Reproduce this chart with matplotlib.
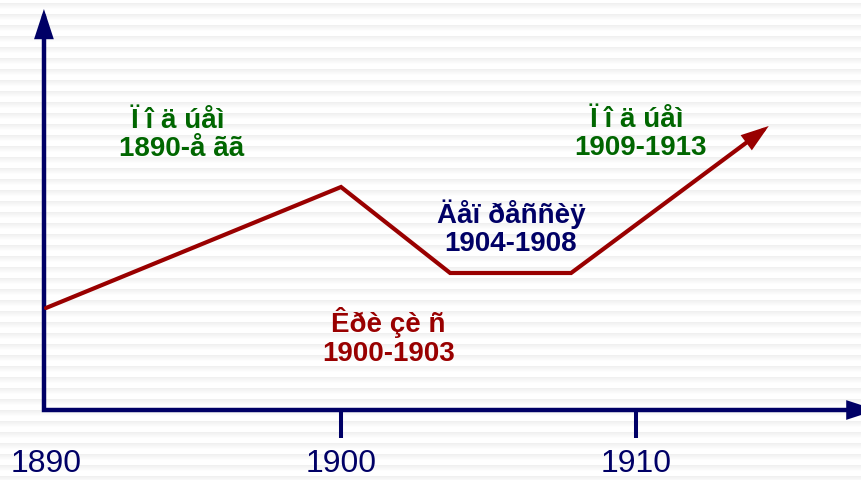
import numpy as np
import matplotlib
matplotlib.use("Agg")
import matplotlib.pyplot as plt
from matplotlib.patches import FancyArrowPatch
from matplotlib.path import Path

# ---- data ----
years = [1890, 1900, 1903.7, 1907.8, 1914.5]
level = [102, 223, 137, 137, 284]

tick_years = [1890, 1900, 1910]
tick_labels = ["1890", "1900", "1910"]

label_texts = ["Ï î ä úåì \n1890-å ãã",
               "Êðè çè ñ\n1900-1903",
               "Äåï ðåññèÿ\n1904-1908",
               "Ï î ä úåì \n1909-1913"]
label_x = [1894.6, 1901.6, 1905.76, 1910.14]
label_y = [275, 73, 182, 276]
label_colors = ["#006600", "#990000", "#000066", "#006600"]

# ---- styling ----
NAVY = "#000066"
RED = "#990000"
W, H, DPI = 862, 480, 100

plt.rcParams['font.family'] = ['Liberation Sans', 'DejaVu Sans']

fig = plt.figure(figsize=(W / DPI, H / DPI), dpi=DPI)

# striped slide background
rows = np.arange(H)
k = (rows - 3) % 11
col = np.where(k < 6, 0.94 + 0.06 * k / 6.0, 1.0)
bg = np.tile(col[:, None], (1, W))
fig.figimage(bg, xo=0, yo=0, origin='upper', cmap='gray', vmin=0, vmax=1, zorder=-10)

ax = fig.add_axes([0, 0, 1, 1])
ax.set_zorder(1)
ax.patch.set_alpha(0)
ax.set_xlim(1888.441, 1917.661)
ax.set_ylim(-70, 410)
ax.spines['bottom'].set_position(('data', 0))
for s in ax.spines.values():
    s.set_visible(False)

x0 = 1889.93
# axes arrows (one path with heads at both ends)
axis_path = Path([(x0, 401), (x0, 0), (1918.15, 0)])
ax.add_patch(FancyArrowPatch(path=axis_path,
                             arrowstyle='<|-|>,head_length=15,head_width=4.9',
                             mutation_scale=1, lw=3.2, color=NAVY,
                             joinstyle='miter', clip_on=False, zorder=3))

# ticks
ax.set_yticks([])
ax.xaxis.set_ticks_position('bottom')
ax.set_xticks(tick_years)
ax.set_xticklabels(tick_labels)
ax.tick_params(axis='x', direction='out', length=20, width=2.9, color=NAVY,
               pad=8, labelsize=23, labelcolor=NAVY)
ax.xaxis.get_major_ticks()[0].tick1line.set_visible(False)

# data line with arrow
line_path = Path(np.column_stack([years, level]))
ax.add_patch(FancyArrowPatch(path=line_path,
                             arrowstyle='-|>,head_length=14,head_width=4.7',
                             mutation_scale=1, lw=3.0, color=RED,
                             joinstyle='miter', zorder=4))

for t, x, y, c in zip(label_texts, label_x, label_y, label_colors):
    ax.text(x, y, t, ha='center', va='center', multialignment='center',
            fontsize=20, fontweight='bold', color=c, linespacing=1.12, zorder=5)

fig.savefig("out.png", dpi=DPI)
